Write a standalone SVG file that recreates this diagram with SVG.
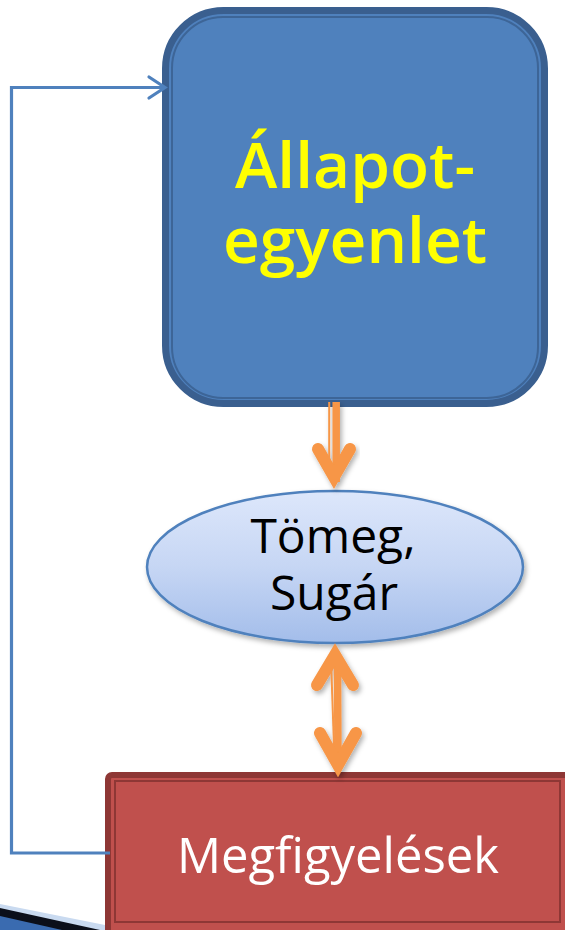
<svg xmlns="http://www.w3.org/2000/svg" width="565" height="930" viewBox="0 0 565 930">
<defs>
<style>
.lbl{font-family:"Open Sans","DejaVu Sans",sans-serif;text-anchor:middle}
.orange{fill:none;stroke:#F79646}
</style>
<linearGradient id="ellg" x1="0" y1="0" x2="0" y2="1">
<stop offset="0" stop-color="#DDE7FB"/>
<stop offset="0.5" stop-color="#C6D6F4"/>
<stop offset="1" stop-color="#A3BDEA"/>
</linearGradient>
<filter id="sh" x="-30%" y="-30%" width="160%" height="160%">
<feDropShadow dx="2" dy="3" stdDeviation="2.5" flood-color="#000" flood-opacity="0.3"/>
</filter>
</defs>
<rect width="565" height="930" fill="#FFFFFF"/>
<g id="decor">
<polygon points="0,904 115,927 115,930 0,930" fill="#C9DAF0"/>
<polygon points="0,908 100,930 0,930" fill="#0B0F1A"/>
<polygon points="0,916 62,930 0,930" fill="#3A6BB0"/>
</g>
<g id="allapot">
<rect x="165.5" y="10.5" width="379" height="393" rx="58" fill="#4F81BD" stroke="#3A5F8F" stroke-width="7"/>
<rect x="172" y="17" width="366" height="381" rx="51" fill="none" stroke="#3D6597" stroke-width="2"/>
<text class="lbl" x="355" y="188" font-size="64" font-weight="600" fill="#FFFF00">Állapot-</text>
<text class="lbl" x="355" y="263" font-size="64" font-weight="600" fill="#FFFF00">egyenlet</text>
</g>
<g id="tomeg">
<ellipse cx="335" cy="567" rx="188" ry="76" fill="url(#ellg)" stroke="#4F81BD" stroke-width="2.5" filter="url(#sh)"/>
<text class="lbl" x="333" y="553" font-size="48" fill="#000000">Tömeg,</text>
<text class="lbl" x="334" y="610" font-size="48" fill="#000000">Sugár</text>
</g>
<g id="megfigyelesek">
<rect x="108" y="775" width="462" height="162" rx="4" fill="#C0504D" stroke="#8E3735" stroke-width="6"/>
<rect x="115" y="781" width="445" height="141" fill="none" stroke="#8E3735" stroke-width="2"/>
<text class="lbl" x="338" y="873" font-size="49" fill="#FFFFFF">Megfigyelések</text>
</g>
<g id="connectors">
<g filter="url(#sh)">
<line class="orange" x1="329.2" y1="402" x2="329.2" y2="478" stroke-width="2"/>
<line class="orange" x1="336.2" y1="402" x2="336.2" y2="482" stroke-width="7.5"/>
<polyline class="orange" points="318,449 334,477 350,449" stroke-width="12" stroke-linecap="round" stroke-linejoin="miter" stroke-miterlimit="4"/>
</g>
<g filter="url(#sh)">
<line class="orange" x1="331" y1="660" x2="334.5" y2="760" stroke-width="2"/>
<line class="orange" x1="337.5" y1="655" x2="338" y2="765" stroke-width="7.5"/>
<polyline class="orange" points="317,685 335,655 353,685" stroke-width="12" stroke-linecap="round" stroke-linejoin="miter" stroke-miterlimit="4"/>
<polyline class="orange" points="320,733 338,765 356,733" stroke-width="12" stroke-linecap="round" stroke-linejoin="miter" stroke-miterlimit="4"/>
</g>
<polyline points="110,853 11.5,853 11.5,87.5 164,87.5" fill="none" stroke="#4F81BD" stroke-width="3.2"/>
<polyline points="149,77 165,87.5 149,98" fill="none" stroke="#4F81BD" stroke-width="3.2" stroke-linecap="round"/>
</g>
</svg>
